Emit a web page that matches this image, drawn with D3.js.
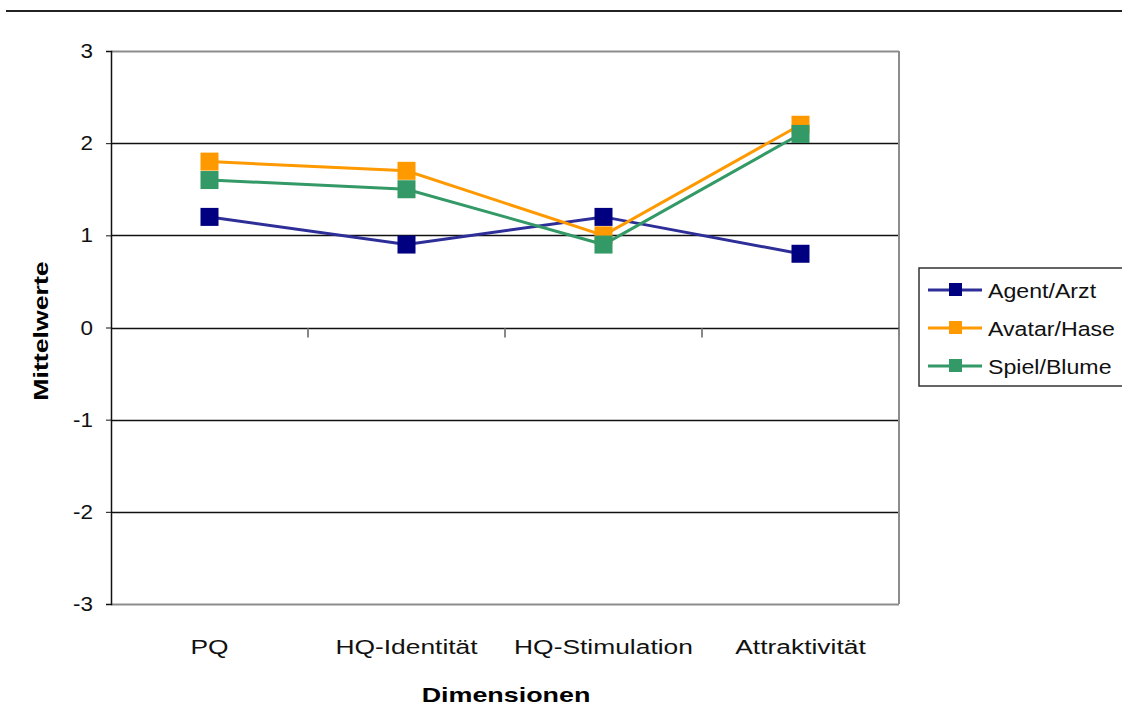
<!DOCTYPE html>
<html>
<head>
<meta charset="utf-8">
<script src="https://cdn.jsdelivr.net/npm/d3@7"></script>
<style>
  body { margin: 0; background: #fff; }
  svg { display: block; font-family: "Liberation Sans", Arial, sans-serif; }
</style>
</head>
<body>
<div class="chart"></div>
<script>
const categories = ['PQ', 'HQ-Identität', 'HQ-Stimulation', 'Attraktivität'];
const seriesNames = ['Agent/Arzt', 'Avatar/Hase', 'Spiel/Blume'];
const agentValues = [1.2, 0.9, 1.2, 0.8];
const avatarValues = [1.8, 1.7, 1.0, 2.2];
const spielValues = [1.6, 1.5, 0.9, 2.1];
const yTicks = [-3, -2, -1, 0, 1, 2, 3];

const lineColors = ['#2e2e99', '#ff9900', '#339966'];
const markerColors = ['#000080', '#ff9900', '#339966'];

const series = seriesNames.map((name, i) => ({
    name: name,
    values: [agentValues, avatarValues, spielValues][i],
    line: lineColors[i],
    marker: markerColors[i]
}));

const width = 1122, height = 708;
const plot = { left: 111, right: 899, top: 51, bottom: 604 };

// the source font is drawn wider than Liberation Sans, so stretch it a bit
function wideText(sel, x, y, s, rot) {
    return sel.append('g')
        .attr('transform', `translate(${x},${y})` + (rot ? ` rotate(${rot})` : '') + ` scale(${s},1)`)
        .append('text');
}

const svg = d3.select('.chart')
    .append('svg')
        .attr('width', width)
        .attr('height', height);

// rule across the top of the page
svg.append('line')
    .attr('x1', 6).attr('x2', width)
    .attr('y1', 11).attr('y2', 11)
    .attr('stroke', '#222')
    .attr('stroke-width', 2);

const x = d3.scaleBand()
    .domain(categories)
    .range([plot.left, plot.right]);

const y = d3.scaleLinear()
    .domain([-3, 3])
    .range([plot.bottom, plot.top]);

// gridlines
svg.append('g')
    .selectAll('line')
    .data(yTicks.filter(d => d !== 0))
    .enter()
    .append('line')
        .attr('x1', plot.left).attr('x2', plot.right)
        .attr('y1', d => Math.round(y(d)) + 0.5)
        .attr('y2', d => Math.round(y(d)) + 0.5)
        .attr('stroke', d => (d === 3 || d === -3) ? '#8c8c8c' : '#111')
        .attr('stroke-width', d => (d === 3 || d === -3) ? 2 : 1.3);

// right border
svg.append('line')
    .attr('x1', plot.right).attr('x2', plot.right)
    .attr('y1', plot.top).attr('y2', plot.bottom)
    .attr('stroke', '#8c8c8c')
    .attr('stroke-width', 2);

// x axis along zero
const xAxis = svg.append('g')
    .attr('transform', `translate(0,${Math.round(y(0)) + 0.5})`);
xAxis.append('line')
    .attr('x1', plot.left).attr('x2', plot.right)
    .attr('stroke', '#111')
    .attr('stroke-width', 1.5);
xAxis.selectAll('.tick')
    .data(categories)
    .enter()
    .append('line')
        .attr('x1', d => x(d) + x.step())
        .attr('x2', d => x(d) + x.step())
        .attr('y1', 0).attr('y2', 9)
        .attr('stroke', '#888')
        .attr('stroke-width', 2);

// x labels
categories.forEach(c => {
    wideText(svg, x(c) + x.bandwidth() / 2, 654, 1.32)
        .attr('text-anchor', 'middle')
        .attr('font-size', 20)
        .attr('fill', '#111')
        .text(c);
});

// y axis
const yAxis = svg.append('g')
    .attr('transform', `translate(${plot.left},0)`)
    .call(d3.axisLeft(y).tickValues(yTicks).tickSize(5).tickPadding(13).tickFormat(''));
yAxis.select('.domain').attr('stroke', '#111').attr('stroke-width', 1.5);
yAxis.selectAll('.tick line').attr('stroke', '#111');
yTicks.forEach(t => {
    wideText(svg, 93, y(t) + 7, 1.15)
        .attr('text-anchor', 'end')
        .attr('font-size', 19.5)
        .attr('fill', '#111')
        .text(t < 0 ? '-' + Math.abs(t) : t);
});

// axis titles
wideText(svg, 506, 702, 1.28)
    .attr('text-anchor', 'middle')
    .attr('font-size', 21)
    .attr('font-weight', 'bold')
    .text('Dimensionen');

wideText(svg, 48, 331, 1.27, -90)
    .attr('text-anchor', 'middle')
    .attr('font-size', 21)
    .attr('font-weight', 'bold')
    .text('Mittelwerte');

// series
const line = d3.line()
    .x((d, i) => x(categories[i]) + x.bandwidth() / 2)
    .y(d => y(d));

const sz = 18;
const seriesG = svg.append('g')
    .selectAll('g')
    .data(series)
    .enter()
    .append('g');

seriesG.append('path')
    .attr('d', d => line(d.values))
    .attr('fill', 'none')
    .attr('stroke', d => d.line)
    .attr('stroke-width', 3);

seriesG.selectAll('rect')
    .data(d => d.values.map((v, i) => ({ v, i, c: d.marker })))
    .enter()
    .append('rect')
        .attr('x', d => x(categories[d.i]) + x.bandwidth() / 2 - sz / 2)
        .attr('y', d => y(d.v) - sz / 2)
        .attr('width', sz).attr('height', sz)
        .attr('fill', d => d.c);

// legend (box runs past the right edge of the page)
const legend = svg.append('g')
    .attr('transform', 'translate(919,268)');
legend.append('rect')
    .attr('width', 210).attr('height', 118)
    .attr('fill', '#fff')
    .attr('stroke', '#333')
    .attr('stroke-width', 1.5);

const item = legend.selectAll('.item')
    .data(series)
    .enter()
    .append('g')
        .attr('transform', (d, i) => `translate(0,${22 + i * 38})`);
item.append('line')
    .attr('x1', 9).attr('x2', 63)
    .attr('stroke', d => d.line)
    .attr('stroke-width', 3);
item.append('rect')
    .attr('x', 30).attr('y', -7)
    .attr('width', 13).attr('height', 13)
    .attr('fill', d => d.marker);
item.each(function (d) {
    wideText(d3.select(this), 69, 8, 1.13)
        .attr('font-size', 20.5)
        .attr('fill', '#111')
        .text(d.name);
});
</script>
</body>
</html>
